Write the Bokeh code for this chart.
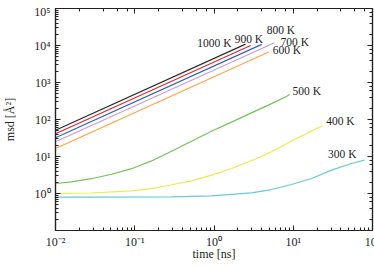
from bokeh.plotting import figure
from bokeh.models import LogAxis, LogTicker, CustomJSTickFormatter, Range1d, ColumnDataSource, Spacer
from bokeh.layouts import column
from bokeh.core.properties import value
from bokeh.embed import file_html
from bokeh.resources import INLINE

# ---- data ----
temps = ["1000 K", "900 K", "800 K", "700 K", "600 K", "500 K", "400 K", "300 K"]

t_1000 = [0.01, 2.5]
msd_1000 = [51, 10900]
t_900 = [0.01, 2.9]
msd_900 = [41, 10000]
t_800 = [0.01, 4.0]
msd_800 = [32, 10700]
t_700 = [0.01, 5.8]
msd_700 = [25, 11900]
t_600 = [0.01, 4.9]
msd_600 = [16.4, 6700]
t_500 = [0.01, 0.0159, 0.0284, 0.0509, 0.091, 0.163, 0.291, 0.52, 0.929, 1.663, 2.97, 5.32, 8.22, 8.97]
msd_500 = [1.86, 2.07, 2.51, 3.31, 4.68, 7.59, 13.8, 25.7, 47.9, 85.1, 151.0, 269.0, 417.0, 475.0]
t_400 = [0.01, 0.0284, 0.091, 0.163, 0.291, 0.52, 0.929, 1.663, 2.97, 5.32, 9.51, 23.2]
msd_400 = [1.0, 1.03, 1.18, 1.36, 1.72, 2.20, 3.14, 4.74, 7.66, 13.5, 26.3, 67.6]
t_300 = [0.01, 0.0509, 0.291, 0.929, 2.97, 5.32, 9.51, 17.0, 30.4, 54.3, 79.3]
msd_300 = [0.80, 0.80, 0.815, 0.867, 1.045, 1.28, 1.75, 2.54, 4.29, 6.47, 8.0]

x_ticks_exp = [-2, -1, 0, 1, 2]
y_ticks_exp = [0, 1, 2, 3, 4, 5]

series_t = [t_1000, t_900, t_800, t_700, t_600, t_500, t_400, t_300]
series_msd = [msd_1000, msd_900, msd_800, msd_700, msd_600, msd_500, msd_400, msd_300]

# ---- styles ----
colors = ["#2b2b2b", "#e8262b", "#2f62b5", "#c99bd6", "#ffa443", "#74c355", "#eeea4a", "#67cbd8"]
label_dx = [-14, -16, 5, 6, 4, 3, 4, -8]
label_dy = [-1, -7, -14, -1, -2, -3, -5, -6]
label_align = ["right", "left", "left", "left", "left", "left", "left", "right"]

FONT = "Liberation Serif"

p = figure(
    frame_width=317, frame_height=222,
    x_axis_type="log", y_axis_type="log",
    x_range=Range1d(1e-2, 1e2), y_range=Range1d(1e-1, 1e5),
    output_backend="svg", toolbar_location=None,
    min_border_left=4, min_border_right=9, min_border_top=4, min_border_bottom=4,
)
p.background_fill_color = "white"
p.border_fill_color = "white"
p.grid.visible = False
p.outline_line_color = "#222222"
p.outline_line_width = 1.2

bottom = p.below[0]
left = p.left[0]

sup_js = """
const sup = {"-":"\u207b","0":"\u2070","1":"\u00b9","2":"\u00b2","3":"\u00b3","4":"\u2074","5":"\u2075","6":"\u2076","7":"\u2077","8":"\u2078","9":"\u2079"};
const e = Math.round(Math.log10(tick));
if (!allowed.includes(e)) return "";
return "10" + String(e).split("").map(c => sup[c]).join("");
"""
bottom.formatter = CustomJSTickFormatter(code=sup_js, args=dict(allowed=x_ticks_exp))
left.formatter = CustomJSTickFormatter(code=sup_js, args=dict(allowed=y_ticks_exp))
blank = CustomJSTickFormatter(code='return "";')

top = LogAxis(ticker=LogTicker(), formatter=blank)
right = LogAxis(ticker=LogTicker(), formatter=blank)
p.add_layout(top, "above")
p.add_layout(right, "right")

for ax in [bottom, left, top, right]:
    ax.major_tick_in = 5
    ax.major_tick_out = 0
    ax.minor_tick_in = 3
    ax.minor_tick_out = 0
    ax.axis_line_color = "#222222"
    ax.axis_line_width = 1.2
    ax.major_tick_line_color = "#222222"
    ax.minor_tick_line_color = "#222222"
    ax.major_label_text_font = FONT
    ax.major_label_text_font_size = "12px"
    ax.major_label_text_color = "#222222"
    ax.axis_label_text_font = FONT
    ax.axis_label_text_font_size = "12px"
    ax.axis_label_text_font_style = "normal"
    ax.axis_label_text_color = "#222222"

top.major_label_standoff = 0
top.axis_label_standoff = 0
right.major_label_standoff = 0
right.axis_label_standoff = 0

bottom.major_label_standoff = 4
left.major_label_standoff = 5
bottom.axis_label = "time [ns]"
left.axis_label = "msd [Å²]"
bottom.axis_label_standoff = -5
left.axis_label_standoff = 14

for t, m, c in zip(series_t, series_msd, colors):
    p.line(t, m, line_color=c, line_width=1.2)

src = ColumnDataSource(dict(
    x=[s[-1] for s in series_t],
    y=[s[-1] for s in series_msd],
    text=temps,
    dx=label_dx,
    dy=label_dy,
    align=label_align,
))
p.text(x="x", y="y", text="text", x_offset="dx", y_offset="dy", text_align="align",
       text_baseline="middle", text_font=value(FONT), text_font_size="11.5px",
       text_color="#222222", source=src)

layout = column(Spacer(height=4, width=10), p)

open("out.html", "w").write(file_html(layout, INLINE))
